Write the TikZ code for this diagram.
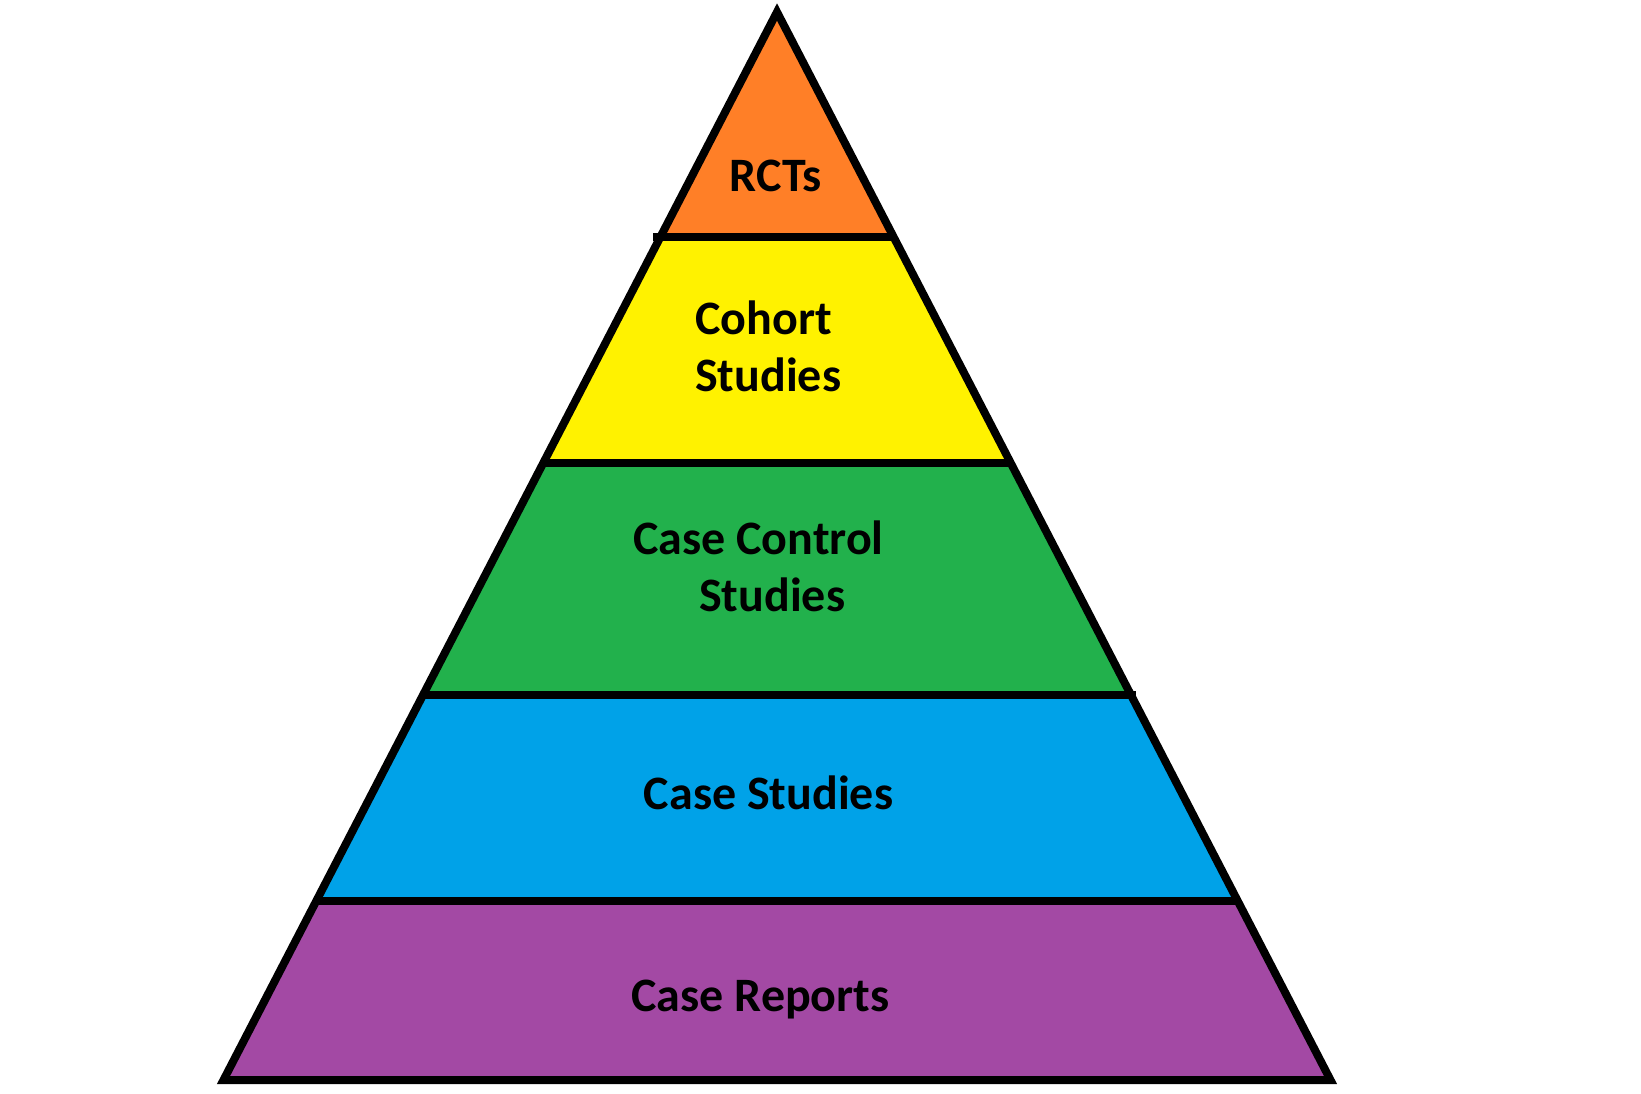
\documentclass[tikz,border=0pt]{standalone}
\usepackage{fontspec}
\setmainfont{Carlito}
\definecolor{tOrange}{HTML}{FF7F27}
\definecolor{tYellow}{HTML}{FFF200}
\definecolor{tGreen}{HTML}{22B14C}
\definecolor{tBlue}{HTML}{00A2E8}
\definecolor{tPurple}{HTML}{A349A4}
\begin{document}
\begin{tikzpicture}[x=1pt,y=-1pt,
  edge/.style={line width=8pt,black},
  lbl/.style={font=\fontsize{48}{57}\selectfont\bfseries,inner sep=0pt,text=black}]
\useasboundingbox (0,0) rectangle (1641,1094);
\fill[white] (0,0) rectangle (1641,1094);
% coordinates
\coordinate (apex) at (777,12);
\coordinate (L1) at (660.4,237); \coordinate (R1) at (893.6,237);
\coordinate (L2) at (543.3,463); \coordinate (R2) at (1010.7,463);
\coordinate (L3) at (423.1,695); \coordinate (R3) at (1130.9,695);
\coordinate (L4) at (316.4,901); \coordinate (R4) at (1237.6,901);
\coordinate (L5) at (223.5,1080); \coordinate (R5) at (1330.5,1080);
% fills
\fill[tOrange] (apex) -- (R1) -- (L1) -- cycle;
\fill[tYellow] (L1) -- (R1) -- (R2) -- (L2) -- cycle;
\fill[tGreen] (L2) -- (R2) -- (R3) -- (L3) -- cycle;
\fill[tBlue] (L3) -- (R3) -- (R4) -- (L4) -- cycle;
\fill[tPurple] (L4) -- (R4) -- (R5) -- (L5) -- cycle;
% outline
\draw[edge] (apex) -- (R5) -- (L5) -- cycle;
\draw[edge] ([xshift=-7pt]L1) -- (R1);
\draw[edge] (L2) -- (R2);
\draw[edge] (L3) -- ([xshift=5pt]R3);
\draw[edge] (L4) -- (R4);
% labels (base anchor of a two-line node = baseline of its last line)
\node[lbl,anchor=base] (rct) at (776,192) {RCTs};
\node[lbl,anchor=base west,align=left] (coh) at (695,391) {Cohort\\Studies};
\node[lbl,anchor=base west,align=left] (ccs) at (633,611) {Case Control\\\hspace*{66pt}Studies};
\node[lbl,anchor=base] (cst) at (768.5,809) {Case Studies};
\node[lbl,anchor=base] (crp) at (760.5,1011) {Case Reports};
\end{tikzpicture}
\end{document}
